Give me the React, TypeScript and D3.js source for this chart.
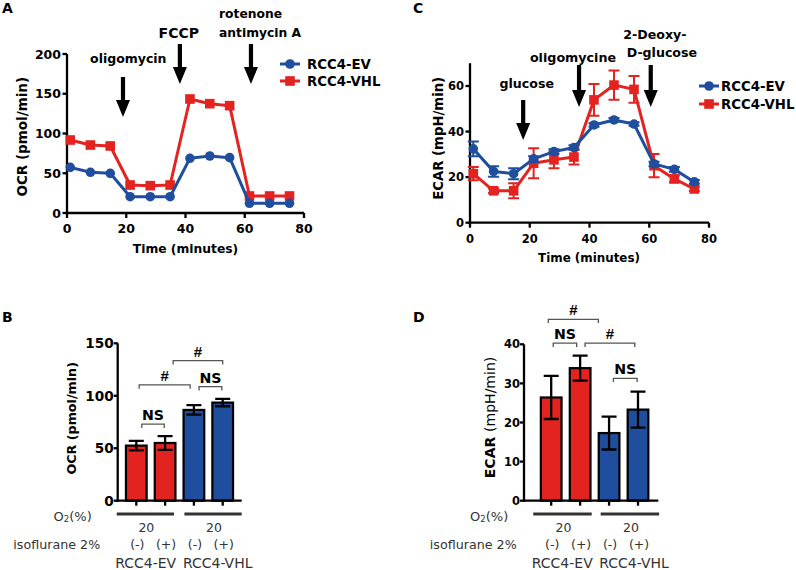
import React from "react";
import * as d3 from "d3";

// ---------- data ----------
const times = [1.1, 7.9, 14.6, 21.3, 28.1, 34.8, 41.5, 48.2, 54.9, 61.6, 68.4, 75.1];
const ocrEV = [57.4, 51.2, 49.9, 20.5, 20.5, 20.5, 68.8, 71.7, 69.6, 12.2, 12.2, 12.2];
const ocrVHL = [91.8, 85.5, 84.3, 35.2, 34.4, 35.2, 143.4, 137.5, 135, 21.4, 21.4, 21.4];
const ecarEV = [32.4, 22.5, 21.5, 28.0, 31.2, 33.0, 42.9, 45.1, 43.3, 25.8, 23.4, 17.9];
const ecarEVErr = [3.2, 2.3, 2.4, 1.2, 1.0, 1.0, 0.8, 0.8, 0.8, 1.0, 1.0, 0.8];
const ecarVHL = [21.5, 14.0, 14.0, 26.1, 27.6, 28.8, 53.9, 60.4, 58.5, 25.0, 19.2, 14.8];
const ecarVHLErr = [2.9, 1.0, 3.3, 6.6, 3.7, 3.3, 7.0, 6.4, 5.9, 5.1, 1.5, 1.0];

const seriesNames = ["RCC4-EV", "RCC4-VHL"];
const timeTicks = [0, 20, 40, 60, 80];
const ocrTicks = [0, 50, 100, 150, 200];
const ecarTicks = [0, 20, 40, 60];

const ocrInjections = [
  { t: 18.9, lines: ["oligomycin"] },
  { t: 38.1, lines: ["FCCP"] },
  { t: 62.1, lines: ["rotenone", "antimycin A"] },
];
const ecarInjections = [
  { t: 17.8, lines: ["glucose"] },
  { t: 36.5, lines: ["oligomycine"] },
  { t: 60.5, lines: ["2-Deoxy-", "D-glucose"] },
];

const barGroups = ["RCC4-EV", "RCC4-EV", "RCC4-VHL", "RCC4-VHL"];
const isoLabels = ["(-)", "(+)", "(-)", "(+)"];
const o2Labels = ["20", "20"];
const cellLines = ["RCC4-EV", "RCC4-VHL"];
const ocrBar = [52.5, 55.0, 86.5, 93.5];
const ocrBarErr = [4.5, 6.5, 4.5, 3.5];
const ecarBar = [26.4, 33.9, 17.3, 23.3];
const ecarBarErr = [5.5, 3.2, 4.2, 4.6];
const ocrBarTicks = [0, 50, 100, 150];
const ecarBarTicks = [0, 10, 20, 30, 40];
const ocrBrackets = [
  { from: 0.19, to: 0.97, y: 73, label: "NS" },
  { from: 0.1, to: 1.87, y: 110.3, label: "#" },
  { from: 2.18, to: 2.97, y: 108.7, label: "NS" },
  { from: 1.28, to: 3.0, y: 133.5, label: "#" },
];
const ecarBrackets = [
  { from: -0.1, to: 1.63, y: 46.4, label: "#" },
  { from: 0.07, to: 0.88, y: 40.3, label: "NS" },
  { from: 1.17, to: 2.89, y: 40.3, label: "#" },
  { from: 2.15, to: 2.97, y: 31.3, label: "NS" },
];

// ---------- style ----------
const RED = "#e3231f";
const BLUE = "#1f4e9e";
const FONT = "'DejaVu Sans', sans-serif";
const AX = 2.3;

function Arrow({ x, y1, y2 }: { x: number; y1: number; y2: number }) {
  const hl = 17, hw = 7, sw = 2.1;
  const d = `M${x - sw},${y1} H${x + sw} V${y2 - hl} H${x + hw} L${x},${y2} L${x - hw},${y2 - hl} H${x - sw} Z`;
  return <path d={d} fill="#000" />;
}

function Marker({ shape, x, y, color, s = 4.8 }: any) {
  if (shape === "circle") return <circle cx={x} cy={y} r={s} fill={color} />;
  return <rect x={x - s} y={y - s} width={2 * s} height={2 * s} fill={color} />;
}

function LinePanel(props: any) {
  const {
    xRange, yRange, yDomain, yTicks, series, injections, tickFont, titleFont,
    yTitle, yTitlePos, xTitleBase, xTitleX, xTitleFont, annFont, arrowY, annY,
    legend,
  } = props;
  const x = d3.scaleLinear().domain([0, 80]).range(xRange);
  const y = d3.scaleLinear().domain(yDomain).range(yRange);
  const line = d3.line<number>().x((_, i) => x(times[i])).y((d) => y(d));
  const x0 = xRange[0], y0 = yRange[0];
  return (
    <g fontFamily={FONT} fontWeight="bold">
      {/* axes */}
      <line x1={x0} x2={x0} y1={y0 + AX / 2} y2={y(yDomain[1])} stroke="#000" strokeWidth={AX} />
      <line x1={x0 - AX / 2} x2={x(80)} y1={y0} y2={y0} stroke="#000" strokeWidth={AX} />
      {yTicks.map((t: number) => (
        <g key={"y" + t}>
          <line x1={x0 - 4.5} x2={x0} y1={y(t)} y2={y(t)} stroke="#000" strokeWidth={AX} />
          <text x={x0 - 6} y={y(t)} dy="0.36em" textAnchor="end" fontSize={tickFont}>{t}</text>
        </g>
      ))}
      {timeTicks.map((t) => (
        <g key={"x" + t}>
          <line x1={x(t)} x2={x(t)} y1={y0} y2={y0 + 5} stroke="#000" strokeWidth={AX} />
          <text x={x(t)} y={y0 + 20} textAnchor="middle" fontSize={tickFont}>{t}</text>
        </g>
      ))}
      <text transform={`translate(${yTitlePos[0]},${yTitlePos[1]}) rotate(-90)`} textAnchor="middle" dy="0.36em" fontSize={titleFont}>{yTitle}</text>
      <text x={xTitleX} y={xTitleBase} textAnchor="middle" fontSize={xTitleFont}>Time (minutes)</text>
      {/* series */}
      {series.map((s: any) => (
        <g key={s.name}>
          <path d={line(s.values) || ""} fill="none" stroke={s.color} strokeWidth={3} strokeLinejoin="round" />
          {s.errs && s.values.map((v: number, i: number) => (
            <path key={i}
              d={`M${x(times[i]) - 5.5},${y(v + s.errs[i])} H${x(times[i]) + 5.5} M${x(times[i])},${y(v + s.errs[i])} V${y(v - s.errs[i])} M${x(times[i]) - 5.5},${y(v - s.errs[i])} H${x(times[i]) + 5.5}`}
              stroke={s.color} strokeWidth={2} fill="none" />
          ))}
          {s.values.map((v: number, i: number) => (
            <Marker key={"m" + i} shape={s.shape} x={x(times[i])} y={y(v)} color={s.color} />
          ))}
        </g>
      ))}
      {/* injections */}
      {injections.map((inj: any, k: number) => (
        <g key={"inj" + k}>
          <Arrow x={x(inj.t)} y1={arrowY[k][0]} y2={arrowY[k][1]} />
          {inj.lines.map((ln: string, j: number) => (
            <text key={j} x={annY[k][j][0]} y={annY[k][j][1]} textAnchor={annY[k][j][2]} fontSize={annFont[k]}>{ln}</text>
          ))}
        </g>
      ))}
      {/* legend */}
      {series.slice().reverse().map((s: any, k: number) => null)}
      {legend.order.map((idx: number, k: number) => {
        const s = series[idx];
        const ly = legend.y[k];
        return (
          <g key={"lg" + k}>
            <line x1={legend.x1} x2={legend.x2} y1={ly} y2={ly} stroke={s.color} strokeWidth={3} />
            <Marker shape={s.shape} x={(legend.x1 + legend.x2) / 2} y={ly} color={s.color} />
            <text x={legend.tx} y={ly} dy="0.36em" fontSize={legend.font}>{s.name}</text>
          </g>
        );
      })}
    </g>
  );
}

function BarPanel(props: any) {
  const {
    centers, yRange, yDomain, yTicks, values, errs, axisX, tickFont,
    yTitle, yTitlePos, brackets, groupLines, mixedTitle, titleFont,
  } = props;
  const x = d3.scaleLinear().domain([0, 3]).range(centers);
  const y = d3.scaleLinear().domain(yDomain).range(yRange);
  const bw = 20.7;
  const y0 = yRange[0];
  const colors = barGroups.map((g) => (g === "RCC4-EV" ? RED : BLUE));
  const gl = groupLines.map((g: number[]) => [x(g[0]), x(g[1])]);
  return (
    <g fontFamily={FONT}>
      {values.map((v: number, i: number) => (
        <rect key={"b" + i} x={x(i) - bw / 2} y={y(v)} width={bw} height={y0 - y(v)} fill={colors[i]} stroke="#000" strokeWidth={2.2} />
      ))}
      {values.map((v: number, i: number) => (
        <path key={"e" + i}
          d={`M${x(i) - 7.5},${y(v + errs[i])} H${x(i) + 7.5} M${x(i)},${y(v + errs[i])} V${y(v - errs[i])} M${x(i) - 7.5},${y(v - errs[i])} H${x(i) + 7.5}`}
          stroke="#000" strokeWidth={2.3} fill="none" />
      ))}
      <line x1={axisX[0]} x2={axisX[0]} y1={y0 + AX / 2} y2={y(yDomain[1])} stroke="#000" strokeWidth={AX} />
      <line x1={axisX[0] - AX / 2} x2={axisX[1]} y1={y0} y2={y0} stroke="#000" strokeWidth={AX} />
      {yTicks.map((t: number) => (
        <g key={"y" + t}>
          <line x1={axisX[0] - 4} x2={axisX[0]} y1={y(t)} y2={y(t)} stroke="#000" strokeWidth={AX} />
          <text x={axisX[0] - 4} y={y(t)} dy="0.36em" textAnchor="end" fontSize={tickFont} fontWeight="bold">{t}</text>
        </g>
      ))}
      {values.map((_: number, i: number) => (
        <line key={"xt" + i} x1={x(i)} x2={x(i)} y1={y0} y2={y0 + 5} stroke="#000" strokeWidth={AX} />
      ))}
      {mixedTitle ? (
        <text transform={`translate(${yTitlePos[0]},${yTitlePos[1]}) rotate(-90)`} textAnchor="middle" dy="0.36em" fontSize={titleFont}>
          <tspan fontWeight="bold">ECAR </tspan><tspan>(mpH/min)</tspan>
        </text>
      ) : (
        <text transform={`translate(${yTitlePos[0]},${yTitlePos[1]}) rotate(-90)`} textAnchor="middle" dy="0.36em" fontSize={titleFont} fontWeight="bold">{yTitle}</text>
      )}
      {brackets.map((b: any, k: number) => {
        const by = y(b.y);
        const x1 = x(b.from), x2 = x(b.to);
        return (
          <g key={"br" + k}>
            <path d={`M${x1},${by + 3.8} V${by} H${x2} V${by + 3.8}`} fill="none" stroke="#555" strokeWidth={1.3} />
            <text x={(x1 + x2) / 2} y={by - 4} textAnchor="middle" fontWeight="bold"
              fontSize={b.label === "#" ? 15 : 14.2}
              fontFamily={b.label === "#" ? "'Liberation Sans', Arial, sans-serif" : FONT}>{b.label}</text>
          </g>
        );
      })}
      {/* condition table */}
      <g fill="#333">
        {gl.map((g: number[], k: number) => (
          <line key={"gl" + k} x1={g[0]} x2={g[1]} y1={514} y2={514} stroke="#333" strokeWidth={3} />
        ))}
        <text x={gl[0][0] - 25} y={520.5} textAnchor="end" fontSize={13}>
          O<tspan fontSize={8.5} dy="1">2</tspan><tspan dy="-1">(%)</tspan>
        </text>
        {o2Labels.map((l, k) => (
          <text key={"o2" + k} x={(gl[k][0] + gl[k][1]) / 2 + 1} y={531.5} textAnchor="middle" fontSize={12.5}>{l}</text>
        ))}
        <text x={gl[0][0] - 16.5} y={549.3} textAnchor="end" fontSize={12.7}>isoflurane 2%</text>
        {isoLabels.map((l, i) => (
          <text key={"iso" + i} x={x(i) + 1} y={549.3} textAnchor="middle" fontSize={12.5}>{l}</text>
        ))}
        {cellLines.map((l, k) => (
          <text key={"cl" + k} x={gl[k][0] - 1.5} y={568.3} textAnchor="start" fontSize={14}>{l}</text>
        ))}
      </g>
    </g>
  );
}

export default function App() {
  const seriesA = [
    { name: seriesNames[1], values: ocrVHL, color: RED, shape: "square" },
    { name: seriesNames[0], values: ocrEV, color: BLUE, shape: "circle" },
  ];
  const seriesC = [
    { name: seriesNames[1], values: ecarVHL, errs: ecarVHLErr, color: RED, shape: "square" },
    { name: seriesNames[0], values: ecarEV, errs: ecarEVErr, color: BLUE, shape: "circle" },
  ];
  return (
    <svg width={796} height={570} style={{ position: "absolute", left: 0, top: 0, background: "#fff" }}>
      <rect x={0} y={0} width={796} height={570} fill="#fff" />
      {/* panel letters */}
      <g fontFamily={FONT} fontWeight="bold" fontSize={14}>
        <text x={2} y={13}>A</text>
        <text x={413} y={13}>C</text>
        <text x={2} y={322}>B</text>
        <text x={413} y={322}>D</text>
      </g>
      <LinePanel
        xRange={[67, 304]} yRange={[213, 54]} yDomain={[0, 200]} yTicks={ocrTicks}
        series={seriesA} injections={ocrInjections} tickFont={12.5} titleFont={13.5}
        yTitle="OCR (pmol/min)" yTitlePos={[22.5, 136.7]} xTitleBase={253.3} xTitleX={185.5} xTitleFont={12.3}
        annFont={[12.5, 14, 12.3]}
        arrowY={[[77, 117], [44, 84], [44, 84]]}
        annY={[[[128.3, 63.3, "middle"]], [[178.8, 38.3, "middle"]], [[219, 18.3, "start"], [219, 36.7, "start"]]]}
        legend={{ order: [1, 0], y: [64, 81], x1: 280, x2: 300, tx: 307, font: 13.3 }}
      />
      <LinePanel
        xRange={[470, 709]} yRange={[222.7, 63.2]} yDomain={[0, 70]} yTicks={ecarTicks}
        series={seriesC} injections={ecarInjections} tickFont={11.5} titleFont={13.25}
        yTitle="ECAR (mpH/min)" yTitlePos={[438.5, 138.3]} xTitleBase={261.7} xTitleX={589} xTitleFont={11.9}
        annFont={[12.6, 12.7, 12.6]}
        arrowY={[[100, 140], [65, 107], [65, 107]]}
        annY={[[[526.7, 87.5, "middle"]], [[573, 61.7, "middle"]], [[623.3, 39.3, "start"], [626.7, 56.7, "start"]]]}
        legend={{ order: [1, 0], y: [86, 104], x1: 699, x2: 719, tx: 721, font: 13.3 }}
      />
      <BarPanel
        centers={[136.3, 222.7]} yRange={[500.7, 343.3]} yDomain={[0, 150]} yTicks={ocrBarTicks}
        values={ocrBar} errs={ocrBarErr} axisX={[117.7, 241.7]} tickFont={13.6}
        yTitle="OCR (pmol/min)" yTitlePos={[71.7, 418.3]} titleFont={12.7}
        brackets={ocrBrackets} groupLines={[[-0.68, 1.31], [1.67, 3.66]]}
      />
      <BarPanel
        centers={[551.2, 638]} yRange={[500.7, 344.3]} yDomain={[0, 40]} yTicks={ecarBarTicks}
        values={ecarBar} errs={ecarBarErr} axisX={[524, 658.3]} tickFont={11.5}
        yTitle="ECAR (mpH/min)" yTitlePos={[489.7, 417.5]} titleFont={14} mixedTitle
        brackets={ecarBrackets} groupLines={[[-0.62, 1.4], [1.71, 3.73]]}
      />
    </svg>
  );
}
